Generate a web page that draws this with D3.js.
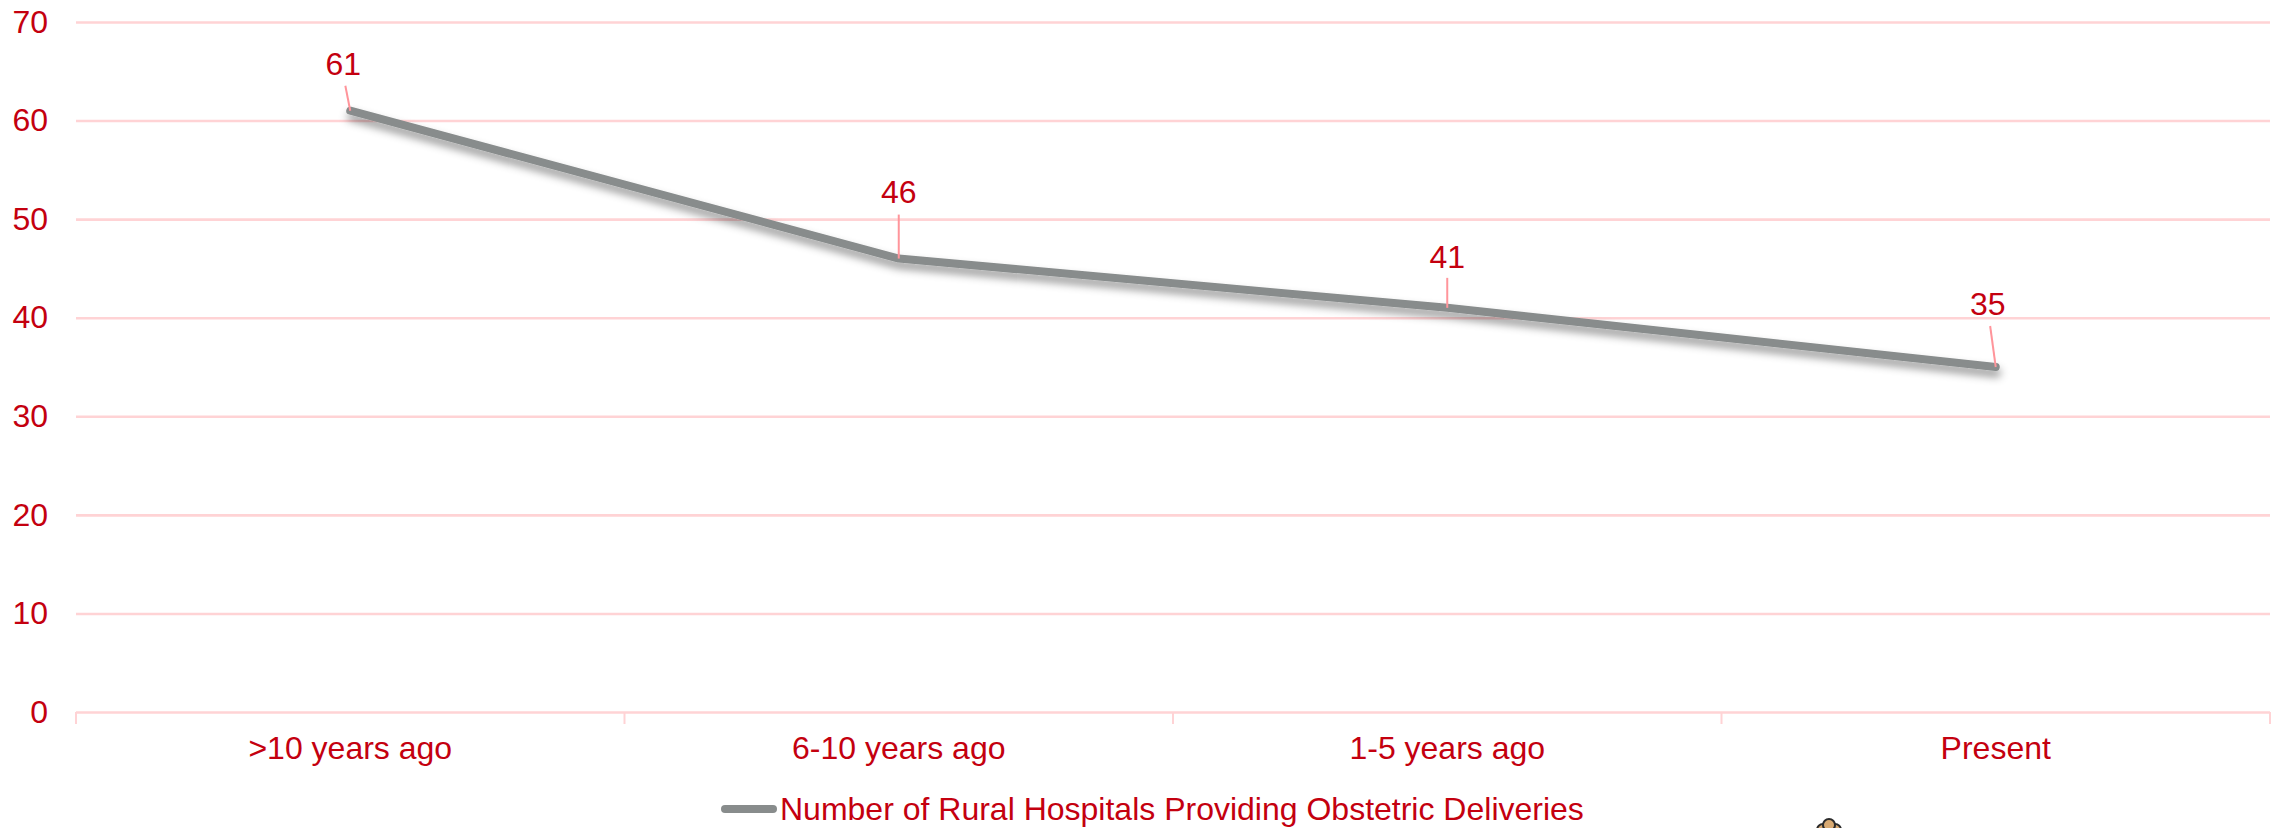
<!DOCTYPE html>
<html>
<head>
<meta charset="utf-8">
<script src="https://d3js.org/d3.v7.min.js"></script>
<style>
    html, body { margin: 0; padding: 0; background: #fff; overflow: hidden; }
    text { font-family: "Liberation Sans", Arial, sans-serif; fill: #c4000f; }
</style>
</head>
<body>
<svg id="svgId"></svg>
<script>
const categories = ['>10 years ago', '6-10 years ago', '1-5 years ago', 'Present'];
const hospitals = [61, 46, 41, 35];
const yTicks = [0, 10, 20, 30, 40, 50, 60, 70];
const seriesName = 'Number of Rural Hospitals Providing Obstetric Deliveries';

// where each data label sits relative to its point (manually dragged in the original)
const labelDx = [-7, 0, 0, -8];
const labelDy = [36, 56, 40, 52];
const leaderGap = [25, 44, 30, 41];

const width = 2280;
const height = 828;
const margin = { top: 22, right: 10, bottom: 116, left: 76 };
const fontSize = 32;
const gridColor = '#ffd3d5';
const leaderColor = '#ff959b';
const lineColor = '#888c8c';

const svg = d3.select('#svgId').attr('width', width).attr('height', height);

const defs = svg.append('defs');
const shadow = defs.append('filter').attr('id', 'lineShadow')
    .attr('x', '-5%').attr('y', '-20%').attr('width', '110%').attr('height', '150%');
shadow.append('feDropShadow')
    .attr('dx', 1).attr('dy', 6).attr('stdDeviation', 4)
    .attr('flood-color', '#000').attr('flood-opacity', 0.42);

const xScale = d3.scaleBand().domain(categories).range([margin.left, width - margin.right]);
const yScale = d3.scaleLinear().domain([0, 70]).range([height - margin.bottom, margin.top]);
const cx = d => xScale(d) + xScale.bandwidth() / 2;

// gridlines and y labels
const yAxis = svg.append('g')
    .attr('transform', `translate(${margin.left}, 0)`)
    .call(d3.axisLeft(yScale).tickValues(yTicks).tickSize(-(width - margin.left - margin.right)).tickPadding(28));
yAxis.select('.domain').remove();
yAxis.selectAll('line').attr('stroke', gridColor).attr('stroke-width', 2.6);
yAxis.selectAll('text').style('font-size', `${fontSize}px`);

// x axis with the ticks between categories
const xAxis = svg.append('g').attr('transform', `translate(0, ${height - margin.bottom})`);
xAxis.call(d3.axisBottom(xScale).tickSize(0).tickPadding(24));
xAxis.select('.domain').remove();
xAxis.selectAll('text').style('font-size', `${fontSize}px`);
d3.range(categories.length + 1).forEach(i => {
    const x = margin.left + i * xScale.bandwidth();
    xAxis.append('line')
        .attr('x1', x).attr('x2', x)
        .attr('y1', 0).attr('y2', 12)
        .attr('stroke', gridColor)
        .attr('stroke-width', 2);
});

const line = d3.line()
    .x((d, i) => cx(categories[i]))
    .y(d => yScale(d));

svg.append('path')
    .datum(hospitals)
    .attr('fill', 'none')
    .attr('stroke', lineColor)
    .attr('stroke-width', 8)
    .attr('stroke-linecap', 'round')
    .attr('stroke-linejoin', 'round')
    .attr('filter', 'url(#lineShadow)')
    .attr('d', line);

// leader lines + data labels
hospitals.forEach((v, i) => {
    const x = cx(categories[i]);
    const y = yScale(v);
    svg.append('line')
        .attr('x1', x + labelDx[i] * 0.7)
        .attr('y1', y - leaderGap[i])
        .attr('x2', x)
        .attr('y2', y)
        .attr('stroke', leaderColor)
        .attr('stroke-width', 2);
    svg.append('text')
        .attr('x', x + labelDx[i])
        .attr('y', y - labelDy[i])
        .attr('text-anchor', 'middle')
        .style('font-size', `${fontSize}px`)
        .text(v);
});

// legend
const legend = svg.append('g').attr('transform', `translate(721, ${height - 19})`);
legend.append('line')
    .attr('x1', 4).attr('x2', 52)
    .attr('y1', 0).attr('y2', 0)
    .attr('stroke', lineColor)
    .attr('stroke-width', 8)
    .attr('stroke-linecap', 'round');
legend.append('text')
    .attr('x', 59)
    .attr('y', 11)
    .style('font-size', `${fontSize}px`)
    .text(seriesName);

// top of the little figure that is cut off by the bottom edge
const figure = svg.append('g').attr('transform', `translate(1829, ${height})`)
    .attr('fill', '#d9aa72').attr('stroke', '#2b2b2b').attr('stroke-width', 2);
figure.append('circle').attr('cx', -6).attr('cy', 2).attr('r', 6);
figure.append('circle').attr('cx', 6).attr('cy', 2).attr('r', 6);
figure.append('circle').attr('cx', 0).attr('cy', -3).attr('r', 6);
</script>
</body>
</html>
